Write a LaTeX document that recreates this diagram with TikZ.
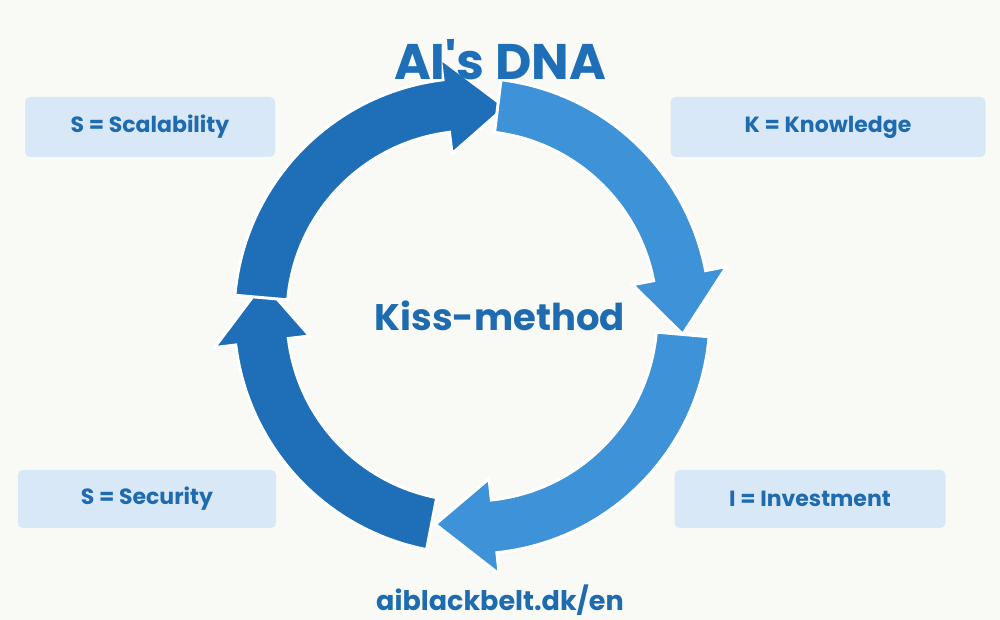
\documentclass[tikz,border=0pt]{standalone}
\usepackage{fontspec}
\setmainfont{Poppins}
\definecolor{bg}{HTML}{F9FAF5}
\definecolor{txt}{HTML}{1F6BB0}
\definecolor{box}{HTML}{D8E8F6}
\definecolor{dk}{HTML}{1E6FB8}
\definecolor{lt}{HTML}{3D92D8}
\begin{document}
\begin{tikzpicture}[x=1pt,y=1pt,
  lbl/.style={fill=box,rounded corners=5pt,minimum height=60pt,text=txt,font=\fontsize{22}{24}\selectfont\bfseries},
  arr/.style={draw=white,line width=3pt,line join=miter}]
\fill[bg] (0,0) rectangle (1000,620);
\useasboundingbox (0,0) rectangle (1000,620);
\def\R{238}\def\r{185}\def\m{211.5}
\begin{scope}[shift={(472,304)}]
\foreach \s/\e/\c in {-101/-173/dk,175/97/dk,83/11/lt,-5/-84/lt}{
  \filldraw[arr,fill=\c] (\s:\R) arc (\s:\e:\R) -- (\e:{\m+48}) -- ({\e-16}:\m) -- (\e:{\m-48}) -- (\e:\r) arc (\e:\s:\r) -- cycle;
}
\end{scope}
\node[text=dk,font=\fontsize{50}{54}\selectfont\bfseries] (title) at (500,560) {AI\textquotesingle s DNA};
\node[lbl,minimum width=250pt] (sc) at (150,493) {S = Scalability};
\node[lbl,minimum width=315pt] (kn) at (828,493) {K = Knowledge};
\node[lbl,minimum width=258pt,minimum height=58pt] (se) at (147,121) {S = Security};
\node[lbl,minimum width=271pt,minimum height=58pt] (in) at (810,121) {I = Investment};
\node[text=txt,font=\fontsize{37}{40}\selectfont\bfseries] (kiss) at (500,304) {Kiss-method};
\node[text=txt,font=\fontsize{27}{30}\selectfont\bfseries] (url) at (500,20) {aiblackbelt.dk/en};
\end{tikzpicture}
\end{document}
